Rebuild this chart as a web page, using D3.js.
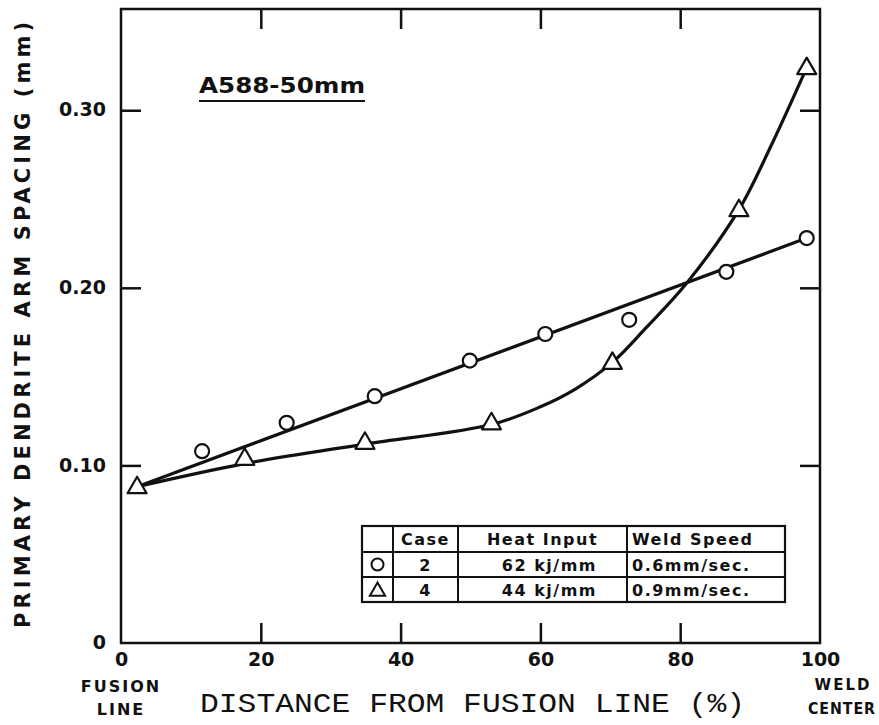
<!DOCTYPE html>
<html>
<head>
<meta charset="utf-8">
<script src="https://cdn.jsdelivr.net/npm/d3@7/dist/d3.min.js"></script>
<style>
  body { margin: 0; background: #fff; }
  svg text { fill: #111; }
  .lbl { font-family: "DejaVu Sans", sans-serif; font-weight: bold; }
</style>
</head>
<body>
<div id="chart"></div>
<script>
const WIDTH = 879;
const HEIGHT = 725;

// axis ticks
var xTicks = [0, 20, 40, 60, 80, 100];
var yTicks = [0, 0.1, 0.2, 0.3];
var yTickLabels = ["0", "0.10", "0.20", "0.30"];

// case 2 (circles) - measured points
var case2X = [11.6, 23.7, 36.3, 49.9, 60.7, 72.7, 86.6, 98.1];
var case2Y = [0.108, 0.124, 0.139, 0.159, 0.174, 0.182, 0.209, 0.228];
// case 4 (triangles) - measured points
var case4X = [2.3, 17.7, 34.9, 53.0, 70.3, 88.4, 98.1];
var case4Y = [0.088, 0.104, 0.113, 0.124, 0.158, 0.244, 0.324];

// hand drawn fit curves
var fit2X = [2.3, 98.1];
var fit2Y = [0.088, 0.228];
var fit4X = [2.3, 17.7, 34.9, 53.0, 60, 65, 70.3, 75, 81, 88.4, 93, 98.1];
var fit4Y = [0.088, 0.101, 0.112, 0.123, 0.133, 0.143, 0.158, 0.177, 0.203, 0.244, 0.280, 0.324];

// legend table
var tableHead = ["", "Case", "Heat Input", "Weld Speed"];
var tableRows = [
  ["circle", "2", "62 kj/mm", "0.6mm/sec."],
  ["triangle", "4", "44 kj/mm", "0.9mm/sec."]
];

var translate = function(x, y){
  return "translate(" + x + "," + y + ")";
};

var xScale = d3.scaleLinear().domain([0, 100]).range([121, 820]);
var yScale = d3.scaleLinear().domain([0, 0.357]).range([643, 9]);

var svg = d3.select("#chart").append("svg")
  .attr("width", WIDTH)
  .attr("height", HEIGHT);

// frame
svg.append("rect")
  .attr("x", xScale(0)).attr("y", yScale(0.357))
  .attr("width", xScale(100) - xScale(0))
  .attr("height", yScale(0) - yScale(0.357))
  .attr("fill", "none").attr("stroke", "#111").attr("stroke-width", 2.5);

// bottom axis with inward ticks
var xAxis = d3.axisBottom(xScale).tickValues(xTicks).tickSizeInner(-20).tickSizeOuter(0).tickPadding(10)
  .tickFormat(d3.format("d"));
var gx = svg.append("g").attr("transform", translate(0, yScale(0))).call(xAxis);

// top ticks only
var gxt = svg.append("g").attr("transform", translate(0, yScale(0.357)))
  .call(d3.axisTop(xScale).tickValues([20, 40, 60, 80]).tickSizeInner(-20).tickSizeOuter(0).tickFormat(""));

var yAxis = d3.axisLeft(yScale).tickValues(yTicks).tickSizeInner(-20).tickSizeOuter(0).tickPadding(15)
  .tickFormat(function(d, i){ return yTickLabels[i]; });
var gy = svg.append("g").attr("transform", translate(xScale(0), 0)).call(yAxis);

var gyr = svg.append("g").attr("transform", translate(xScale(100), 0))
  .call(d3.axisRight(yScale).tickValues([0.1, 0.2, 0.3]).tickSizeInner(-20).tickSizeOuter(0).tickFormat(""));

[gx, gxt, gy, gyr].forEach(function(g){
  g.select(".domain").remove();
  g.selectAll(".tick line").attr("stroke", "#111").attr("stroke-width", 2.5);
  g.selectAll(".tick text")
    .attr("font-family", "DejaVu Sans, sans-serif")
    .attr("font-weight", "bold")
    .attr("font-size", 19)
    .attr("fill", "#111");
});
gx.selectAll(".tick line").filter(function(d){ return d === 0 || d === 100; }).remove();
gy.selectAll(".tick line").filter(function(d){ return d === 0; }).remove();
gy.selectAll(".tick text").attr("dy", "0.3em");

// end labels under x axis
svg.append("text").attr("class", "lbl").attr("x", xScale(0)).attr("y", 692)
  .attr("text-anchor", "middle").attr("font-size", 16).attr("letter-spacing", 2).text("FUSION");
svg.append("text").attr("class", "lbl").attr("x", xScale(0)).attr("y", 715)
  .attr("text-anchor", "middle").attr("font-size", 16).attr("letter-spacing", 2).text("LINE");
svg.append("text").attr("class", "lbl").attr("x", 843).attr("y", 690)
  .attr("text-anchor", "middle").attr("font-size", 15).attr("letter-spacing", 2).text("WELD");
svg.append("text").attr("class", "lbl").attr("x", 876).attr("y", 714)
  .attr("text-anchor", "end").attr("font-size", 15).attr("letter-spacing", 1)
  .attr("textLength", 68).attr("lengthAdjust", "spacingAndGlyphs").text("CENTER");

// axis titles
svg.append("text")
  .attr("x", 200).attr("y", 712)
  .attr("font-family", "Liberation Mono, monospace")
  .attr("font-size", 27)
  .attr("textLength", 545).attr("lengthAdjust", "spacingAndGlyphs")
  .text("DISTANCE FROM FUSION LINE (%)");

svg.append("text").attr("class", "lbl")
  .attr("transform", translate(30, 325) + " rotate(-90)")
  .attr("text-anchor", "middle")
  .attr("font-size", 21)
  .attr("textLength", 606).attr("lengthAdjust", "spacing")
  .text("PRIMARY DENDRITE ARM SPACING (mm)");

// title
svg.append("text").attr("class", "lbl")
  .attr("x", 199).attr("y", 93)
  .attr("font-size", 21)
  .attr("textLength", 166).attr("lengthAdjust", "spacingAndGlyphs")
  .text("A588-50mm");
svg.append("line").attr("x1", 199).attr("x2", 365).attr("y1", 101).attr("y2", 101)
  .attr("stroke", "#111").attr("stroke-width", 2);

// fit curves
var line = d3.line()
  .x(function(d){ return xScale(d[0]); })
  .y(function(d){ return yScale(d[1]); });

svg.append("path")
  .attr("d", line(d3.zip(fit2X, fit2Y)))
  .attr("fill", "none").attr("stroke", "#111").attr("stroke-width", 3.2);
svg.append("path")
  .attr("d", line.curve(d3.curveCatmullRom)(d3.zip(fit4X, fit4Y)))
  .attr("fill", "none").attr("stroke", "#111").attr("stroke-width", 3.2);

var triPath = function(s){
  return "M0," + (-s) + "L" + (s * 0.95) + "," + (s * 0.65) + "L" + (-s * 0.95) + "," + (s * 0.65) + "Z";
};

// markers
svg.selectAll(".c2").data(d3.zip(case2X, case2Y)).enter().append("circle")
  .attr("cx", function(d){ return xScale(d[0]); })
  .attr("cy", function(d){ return yScale(d[1]); })
  .attr("r", 7)
  .attr("fill", "#fff").attr("stroke", "#111").attr("stroke-width", 2.2);

svg.selectAll(".c4").data(d3.zip(case4X, case4Y)).enter().append("path")
  .attr("transform", function(d){ return translate(xScale(d[0]), yScale(d[1])); })
  .attr("d", triPath(10))
  .attr("fill", "#fff").attr("stroke", "#111").attr("stroke-width", 2.2).attr("stroke-linejoin", "round");

// legend table
var colX = [362, 393, 458, 627, 785];
var rowY = [526, 552, 577, 602];
var tbl = svg.append("g");
tbl.append("rect").attr("x", colX[0]).attr("y", rowY[0])
  .attr("width", colX[4] - colX[0]).attr("height", rowY[3] - rowY[0])
  .attr("fill", "#fff").attr("stroke", "#111").attr("stroke-width", 2.2);
colX.slice(1, 4).forEach(function(x){
  tbl.append("line").attr("x1", x).attr("x2", x).attr("y1", rowY[0]).attr("y2", rowY[3])
    .attr("stroke", "#111").attr("stroke-width", 2);
});
rowY.slice(1, 3).forEach(function(y){
  tbl.append("line").attr("x1", colX[0]).attr("x2", colX[4]).attr("y1", y).attr("y2", y)
    .attr("stroke", "#111").attr("stroke-width", 2);
});

var cellText = function(txt, col, row, anchor){
  var x = anchor === "end" ? colX[col + 1] - 30 : anchor === "start" ? colX[col] + 5 : (colX[col] + colX[col + 1]) / 2;
  tbl.append("text").attr("class", "lbl")
    .attr("x", x).attr("y", (rowY[row] + rowY[row + 1]) / 2 + 6)
    .attr("text-anchor", anchor)
    .attr("font-size", 16).attr("letter-spacing", 1.5)
    .text(txt);
};
cellText(tableHead[1], 1, 0, "middle");
cellText(tableHead[2], 2, 0, "middle");
cellText(tableHead[3], 3, 0, "start");
tableRows.forEach(function(r, i){
  var cx = (colX[0] + colX[1]) / 2, cy = (rowY[i + 1] + rowY[i + 2]) / 2;
  if (r[0] === "circle") {
    tbl.append("circle").attr("cx", cx).attr("cy", cy).attr("r", 6)
      .attr("fill", "#fff").attr("stroke", "#111").attr("stroke-width", 2);
  } else {
    tbl.append("path").attr("transform", translate(cx, cy + 1)).attr("d", triPath(8))
      .attr("fill", "#fff").attr("stroke", "#111").attr("stroke-width", 2);
  }
  cellText(r[1], 1, i + 1, "middle");
  cellText(r[2], 2, i + 1, "end");
  cellText(r[3], 3, i + 1, "start");
});
</script>
</body>
</html>
